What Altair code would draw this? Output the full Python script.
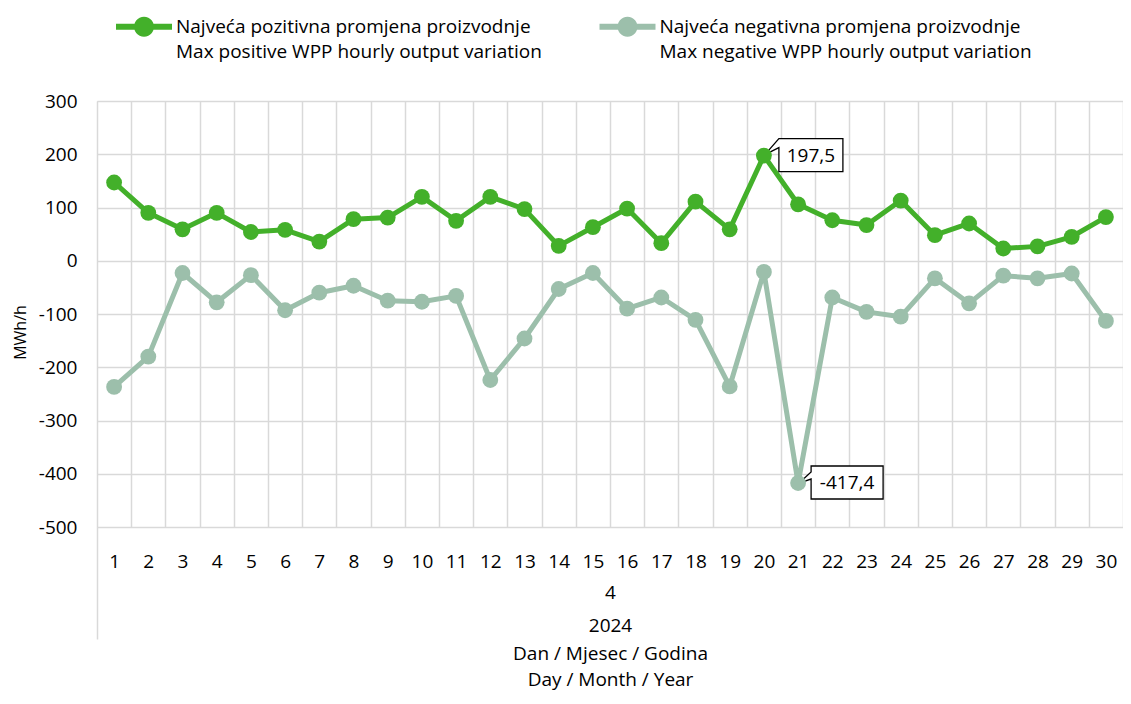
import math
import altair as alt
import pandas as pd

# ---------------- data ----------------
days = list(range(1, 31))
pos_values = [147, 90, 59, 90, 54, 58, 36, 78, 81, 120, 75, 120, 97, 28, 63,
              98, 33, 111, 59, 197.5, 106, 76, 67, 113, 48, 70, 23, 27, 45, 82]
neg_values = [-237, -180, -23, -78, -27, -93, -60, -47, -75, -77, -66, -224, -146, -53, -23,
              -90, -69, -111, -236, -21, -417.4, -69, -96, -105, -33, -80, -28, -33, -24, -113]
series_names = [
    "Najveća pozitivna promjena proizvodnje|Max positive WPP hourly output variation",
    "Najveća negativna promjena proizvodnje|Max negative WPP hourly output variation",
]
y_ticks = [-500, -400, -300, -200, -100, 0, 100, 200, 300]
month_label = "4"
year_label = "2024"
x_title = ["Dan / Mjesec / Godina", "Day / Month / Year"]
y_title = "MWh/h"
callout_days = [20, 21]
callout_series = [series_names[0], series_names[1]]

# ---------------- styles ----------------
series_colors = ["#43b02a", "#9cbfab"]
GRID = "#d9d9d9"
FONT = "Open Sans"
FS = 19

df = pd.DataFrame({
    "day": days * 2,
    "value": pos_values + neg_values,
    "series": [series_names[0]] * len(days) + [series_names[1]] * len(days),
})
boundaries = [d - 0.5 for d in days] + [days[-1] + 0.5]

x_scale = alt.Scale(domain=[boundaries[0], boundaries[-1]], nice=False, zero=False)
y_enc = alt.Y(
    "value:Q",
    scale=alt.Scale(domain=[y_ticks[0], y_ticks[-1]], nice=False, zero=False),
    axis=alt.Axis(
        values=y_ticks, grid=True, gridColor=GRID, gridWidth=1.5, ticks=False, tickSize=0,
        domain=False, labelPadding=20, labelFont=FONT, labelFontSize=FS, labelColor="black",
        labelExpr="toString(datum.value)",
        title=y_title, titleFont=FONT, titleFontSize=16, titleFontWeight="normal",
        titleColor="black", titleAngle=270, titleX=-77, titleY=231,
        titleBaseline="middle", titleAlign="center",
    ),
)

axis_labels = alt.Axis(
    orient="bottom",
    values=days, labels=True, ticks=False, tickSize=0, domain=False, grid=False,
    labelPadding=34, labelBaseline="middle", labelFont=FONT, labelFontSize=FS,
    labelColor="black", labelFlush=False, labelOverlap=False,
    title=x_title, titleFont=FONT, titleFontSize=FS, titleFontWeight="normal",
    titleColor="black", titleBaseline="alphabetic", titleLineHeight=26, titleY=132,
)
axis_grid = alt.Axis(
    orient="bottom",
    values=boundaries, labels=False, ticks=False, domain=False, grid=True,
    gridColor=GRID, gridWidth=1.5,
    title=month_label, titleFont=FONT, titleFontSize=FS, titleFontWeight="normal",
    titleColor="black", titleBaseline="alphabetic", titleY=71,
)
axis_ext = alt.Axis(
    orient="bottom",
    values=[boundaries[0]], labels=False, ticks=True, tickSize=112, tickColor=GRID,
    tickWidth=1.5, domain=False, grid=False,
    title=year_label, titleFont=FONT, titleFontSize=FS, titleFontWeight="normal",
    titleColor="black", titleBaseline="alphabetic", titleY=104,
)

# legend symbol: line with a round marker (polygon circle, pixel units)
circle_pts = " L".join(
    f"{10 * math.cos(2 * math.pi * k / 28):.2f},{10 * math.sin(2 * math.pi * k / 28):.2f}"
    for k in range(28)
)
LEG_PATH = (
    "M-28,-3 L-9,-3 L-9,3 L-28,3 Z "
    "M9,-3 L28,-3 L28,3 L9,3 Z "
    f"M{circle_pts} Z"
)

legend = alt.Legend(
    orient="none", legendX=37.5, legendY=-84, direction="horizontal", title=None,
    symbolType=LEG_PATH, symbolSize=4, symbolStrokeWidth=0, symbolOpacity=1,
    labelFont=FONT, labelFontSize=FS, labelColor="black", labelLimit=0,
    labelOffset=22.5, columnPadding=56.5, padding=0, rowPadding=0,
    labelExpr="split(datum.label, '|')",
)

base = alt.Chart(df)

line_layers = []
for i, s in enumerate(series_names):
    line_layers.append(
        base.transform_filter(alt.datum.series == s)
        .mark_line(strokeWidth=5, strokeJoin="round", strokeCap="round", color=series_colors[i])
        .encode(
            x=alt.X("day:Q", scale=x_scale, axis=axis_labels if i == 0 else None),
            y=y_enc,
        )
    )

points = base.mark_circle(size=250, opacity=1).encode(
    x=alt.X("day:Q", scale=x_scale, axis=axis_grid),
    y=y_enc,
    fill=alt.Fill("series:N", scale=alt.Scale(domain=series_names, range=series_colors), legend=legend),
)

box_paths = [
    "M15,-17 L79,-17 L79,16 L15,16 L15,-8 L1,-1 Z",
    "M13,-17 L85,-17 L85,16 L13,16 L13,-4 L1,0 L13,-11 Z",
]
text_dx = [47, 49]

boxes = []
texts = []
for i, (d, s) in enumerate(zip(callout_days, callout_series)):
    sel = base.transform_filter(
        (alt.datum.day == d) & (alt.datum.series == s)
    )
    boxes.append(
        sel.mark_point(shape=box_paths[i], size=4, filled=True, fill="white",
                       stroke="black", strokeWidth=1.3, opacity=1).encode(
            x=alt.X("day:Q", scale=x_scale, axis=axis_ext if i == 0 else None),
            y=y_enc,
        )
    )
    texts.append(
        sel.transform_calculate(
            label="replace(toString(datum.value), '.', ',')"
        ).mark_text(dx=text_dx[i], align="center", baseline="middle", font=FONT,
                    fontSize=FS, color="black").encode(
            x=alt.X("day:Q", scale=x_scale, axis=None),
            y=y_enc,
            text="label:N",
        )
    )

chart = alt.layer(*line_layers, *boxes, points, *texts).resolve_axis(x="independent").properties(
    width=1026,
    height=426,
    padding={"left": 89, "top": 93, "right": 0, "bottom": 165},
    autosize=alt.AutoSizeParams(type="none"),
).configure_view(stroke=None).configure(
    background="white",
    style={"guide-label": {"lineHeight": 25}},
)

chart.save("out.html", embed_options={"renderer": "svg", "actions": False})
